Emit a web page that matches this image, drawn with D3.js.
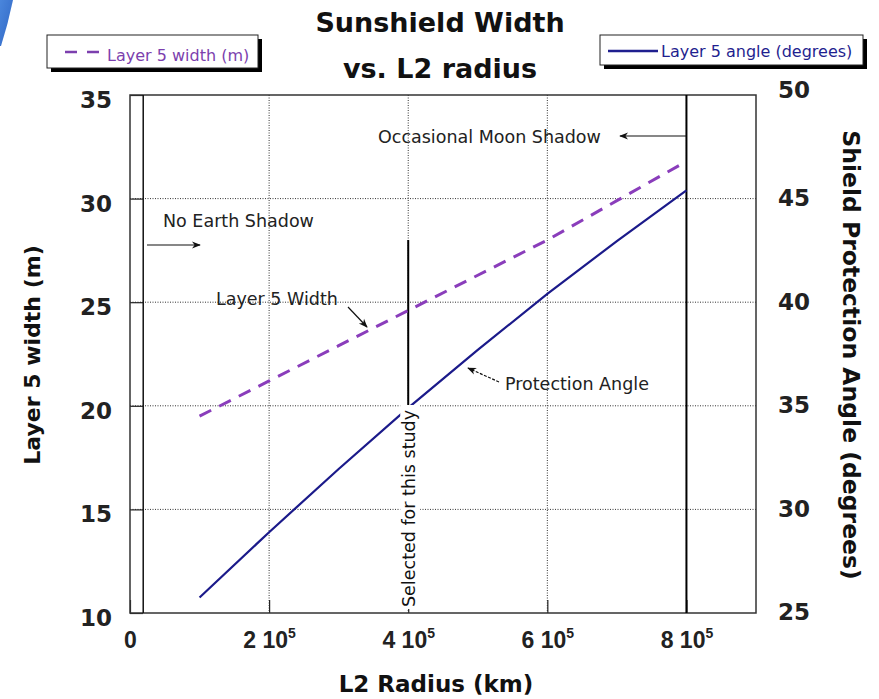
<!DOCTYPE html>
<html>
<head>
<meta charset="utf-8">
<script src="https://cdn.jsdelivr.net/npm/d3@7"></script>
<style>
  body { margin: 0; background: #fff; }
  svg { display: block; font-family: "DejaVu Sans", sans-serif; }
</style>
</head>
<body>
<div id="chart"></div>
<script>
// L2 radius (km) sample points
const radius = [1e5, 2e5, 3e5, 4e5, 5e5, 6e5, 7e5, 8e5];
// layer 5 width (m), left axis
const layerWidth = [19.5, 21.2, 22.9, 24.6, 26.3, 28.0, 29.9, 31.8];
// layer 5 angle (degrees), right axis
const layerAngle = [25.75, 28.9, 31.95, 34.9, 37.7, 40.4, 42.95, 45.4];

const xTicks = [0, 2e5, 4e5, 6e5, 8e5];
const leftTicks = [10, 15, 20, 25, 30, 35];
const rightTicks = [25, 30, 35, 40, 45, 50];
const gridX = [2e5, 4e5, 6e5, 8e5];
const gridY = [15, 20, 25, 30];

// vertical marker lines (km)
const earthShadowEdge = 1.9e4;
const selectedRadius = 4e5;
const selectedTop = 28;
const selectedBottom = 19.6;
const moonShadowEdge = 8e5;

const W = 879, H = 699;
const margin = {left: 130, right: 123, top: 95, bottom: 86};
const plotW = W - margin.left - margin.right;
const plotH = H - margin.top - margin.bottom;

const svg = d3.select('#chart').append('svg')
    .attr('width', W)
    .attr('height', H);

const defs = svg.append('defs');
const grad = defs.append('linearGradient').attr('id', 'wedge')
    .attr('x1', 0).attr('y1', 0).attr('x2', 1).attr('y2', 1);
grad.append('stop').attr('offset', 0).attr('stop-color', '#4a86dc');
grad.append('stop').attr('offset', 1).attr('stop-color', '#2f66c4');

const arrow = defs.append('marker').attr('id', 'arrow')
    .attr('viewBox', '0 0 10 10')
    .attr('refX', 9).attr('refY', 5)
    .attr('markerWidth', 9).attr('markerHeight', 9)
    .attr('orient', 'auto-start-reverse')
    .attr('markerUnits', 'userSpaceOnUse');
arrow.append('path').attr('d', 'M0,1 L10,5 L0,9 L3,5 Z').attr('fill', '#111');

// decorative slide wedge
svg.append('path')
    .attr('d', 'M0,0 L13,0 Q8,24 1,46 L0,46 Z')
    .attr('fill', 'url(#wedge)');

const x = d3.scaleLinear().domain([0, 9e5]).range([0, plotW]);
const yL = d3.scaleLinear().domain([10, 35]).range([plotH, 0]);
const yR = d3.scaleLinear().domain([25, 50]).range([plotH, 0]);

const g = svg.append('g').attr('transform', `translate(${margin.left},${margin.top})`);

// grid
g.append('g').selectAll('line').data(gridY).join('line')
    .attr('x1', 0).attr('x2', plotW)
    .attr('y1', d => yL(d)).attr('y2', d => yL(d))
    .attr('stroke', '#333').attr('stroke-width', 1).attr('stroke-dasharray', '1,1.5');
g.append('g').selectAll('line').data(gridX).join('line')
    .attr('x1', d => x(d)).attr('x2', d => x(d))
    .attr('y1', 0).attr('y2', plotH)
    .attr('stroke', '#333').attr('stroke-width', 1).attr('stroke-dasharray', '1,1.5');

// axes (ticks inward)
const fmtX = d => d === 0 ? '0' : String(d / 1e5);
const xAxis = g.append('g').attr('transform', `translate(0,${plotH})`)
    .call(d3.axisBottom(x).tickValues(xTicks).tickSize(-13).tickFormat(''));
xAxis.select('.domain').remove();
xAxis.selectAll('.tick line').attr('stroke', '#222').attr('stroke-width', 1.2);
xAxis.selectAll('.tick').each(function (d) {
    const t = d3.select(this).append('text')
        .attr('y', 35)
        .attr('fill', '#222')
        .attr('font-size', 23)
        .attr('font-weight', 'bold')
        .attr('text-anchor', 'middle');
    if (d === 0) {
        t.text('0');
    } else {
        t.append('tspan').text(fmtX(d) + ' 10');
        t.append('tspan').attr('font-size', 14).attr('dy', -10).text('5');
    }
});

const leftAxis = g.append('g')
    .call(d3.axisLeft(yL).tickValues(leftTicks).tickSize(-13).tickPadding(18));
leftAxis.select('.domain').remove();
leftAxis.selectAll('.tick line').attr('stroke', '#222').attr('stroke-width', 1.2);
leftAxis.selectAll('.tick text')
    .attr('font-size', 23).attr('font-weight', 'bold').attr('fill', '#222')
    .attr('font-family', '"DejaVu Sans", sans-serif')
    .attr('dy', '0.54em');

const rightAxis = g.append('g').attr('transform', `translate(${plotW},0)`)
    .call(d3.axisRight(yR).tickValues(rightTicks).tickSize(0).tickPadding(22));
rightAxis.select('.domain').remove();
rightAxis.selectAll('.tick text')
    .attr('font-size', 23).attr('font-weight', 'bold').attr('fill', '#222')
    .attr('font-family', '"DejaVu Sans", sans-serif')
    .attr('dy', d => d === 50 ? '0.1em' : '0.3em');

// frame
g.append('rect').attr('width', plotW).attr('height', plotH)
    .attr('fill', 'none').attr('stroke', '#333').attr('stroke-width', 1.5);

// marker verticals
g.append('line')
    .attr('x1', x(earthShadowEdge)).attr('x2', x(earthShadowEdge))
    .attr('y1', 0).attr('y2', plotH)
    .attr('stroke', '#111').attr('stroke-width', 1.5);
g.append('line')
    .attr('x1', x(moonShadowEdge)).attr('x2', x(moonShadowEdge))
    .attr('y1', 0).attr('y2', plotH)
    .attr('stroke', '#000').attr('stroke-width', 2);
g.append('line')
    .attr('x1', x(selectedRadius)).attr('x2', x(selectedRadius))
    .attr('y1', yL(selectedTop)).attr('y2', yL(selectedBottom))
    .attr('stroke', '#000').attr('stroke-width', 2);

// data lines
const widthLine = d3.line().x((d, i) => x(radius[i])).y(d => yL(d));
const angleLine = d3.line().x((d, i) => x(radius[i])).y(d => yR(d));

g.append('path').datum(layerWidth)
    .attr('d', widthLine)
    .attr('fill', 'none')
    .attr('stroke', '#8a3dbb')
    .attr('stroke-width', 3)
    .attr('stroke-dasharray', '13,9');

g.append('path').datum(layerAngle)
    .attr('d', angleLine)
    .attr('fill', 'none')
    .attr('stroke', '#1b1a8a')
    .attr('stroke-width', 2.2);

// "Selected for this study" label
const selText = g.append('g')
    .attr('transform', `translate(${x(selectedRadius) + 7},${plotH - 6}) rotate(-90)`);
selText.append('rect').attr('x', -2).attr('y', -15).attr('width', 204).attr('height', 20).attr('fill', '#fff');
selText.append('text')
    .attr('font-size', 17.5).attr('fill', '#111')
    .text('Selected for this study');

// annotations
const note = (tx, ty, label) => g.append('text')
    .attr('x', tx).attr('y', ty)
    .attr('font-size', 17.5).attr('fill', '#222')
    .text(label);
const arrowLine = (x1, y1, x2, y2, dash) => g.append('line')
    .attr('x1', x1).attr('y1', y1).attr('x2', x2).attr('y2', y2)
    .attr('stroke', '#111').attr('stroke-width', 1.2)
    .attr('stroke-dasharray', dash || null)
    .attr('marker-end', 'url(#arrow)');

note(248, 48, 'Occasional Moon Shadow');
arrowLine(x(moonShadowEdge), 41, 490, 41);

note(33, 132, 'No Earth Shadow');
arrowLine(17, 150, 70, 150);

note(86, 210, 'Layer 5 Width');
arrowLine(218, 212, 237, 232);

note(375, 295, 'Protection Angle');
arrowLine(369, 287, 338, 273, '3,1.5');

// title
const title = svg.append('g').attr('font-weight', 'bold').attr('font-size', 27)
    .attr('fill', '#111').attr('text-anchor', 'middle');
title.append('text').attr('x', 440).attr('y', 32).text('Sunshield Width');
title.append('text').attr('x', 440).attr('y', 78).text('vs. L2 radius');

// axis titles
svg.append('text')
    .attr('x', 436).attr('y', 692)
    .attr('text-anchor', 'middle').attr('font-size', 23).attr('font-weight', 'bold').attr('fill', '#111')
    .text('L2 Radius (km)');
svg.append('text')
    .attr('transform', `translate(40,355) rotate(-90)`)
    .attr('text-anchor', 'middle').attr('font-size', 22).attr('font-weight', 'bold').attr('fill', '#111')
    .text('Layer 5 width (m)');
svg.append('text')
    .attr('transform', `translate(843,355) rotate(90)`)
    .attr('text-anchor', 'middle').attr('font-size', 23.5).attr('font-weight', 'bold').attr('fill', '#111')
    .text('Shield Protection Angle (degrees)');

// legends
const legend = (lx, ly, lw, lh, color, dash, lineY, textY, label) => {
    const lg = svg.append('g').attr('transform', `translate(${lx},${ly})`);
    lg.append('rect').attr('x', 4).attr('y', 4).attr('width', lw).attr('height', lh).attr('fill', '#000');
    lg.append('rect').attr('width', lw).attr('height', lh).attr('fill', '#fff')
        .attr('stroke', '#222').attr('stroke-width', 1);
    lg.append('line').attr('x1', dash ? 18 : 8).attr('x2', dash ? 53 : 58).attr('y1', lineY).attr('y2', lineY)
        .attr('stroke', color).attr('stroke-width', 2.5).attr('stroke-dasharray', dash);
    lg.append('text').attr('x', dash ? 60 : 61).attr('y', textY)
        .attr('font-size', 16).attr('fill', color)
        .text(label);
};
legend(47, 35, 211, 33, '#7c3fae', '12,10', 17, 26, 'Layer 5 width (m)');
legend(600, 35, 263, 30, '#1f1f8f', null, 16, 22, 'Layer 5 angle (degrees)');
</script>
</body>
</html>
